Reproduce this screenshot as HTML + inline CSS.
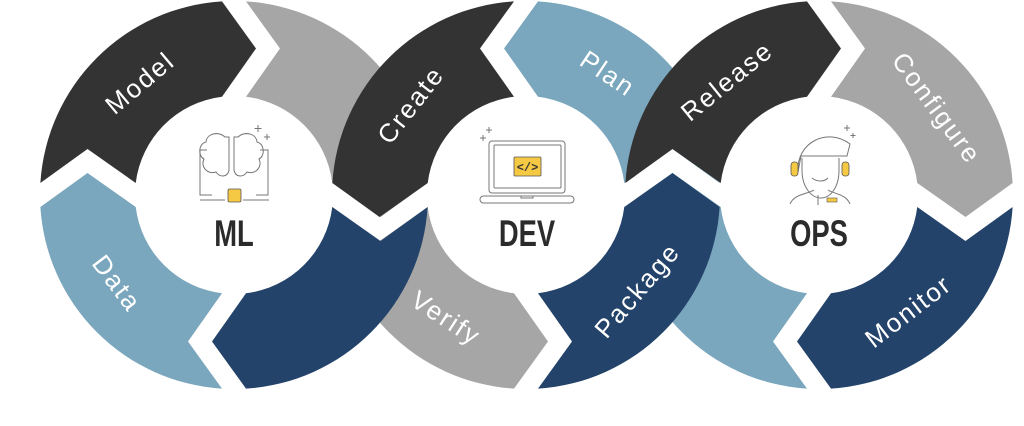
<!DOCTYPE html>
<html><head><meta charset="utf-8"><style>
html,body{margin:0;padding:0;background:#fff;width:1024px;height:426px;overflow:hidden}
svg{display:block}
.lbl{font-family:"Liberation Sans",sans-serif;font-size:26px;fill:#fff;letter-spacing:2px}
.big{font-family:"Liberation Sans",sans-serif;font-weight:bold;font-size:37px;fill:#2b2b2b}
.ic{fill:none;stroke:#777;stroke-width:1}
</style></head><body>
<svg id="s" width="1024" height="426" viewBox="0 0 1024 426" xmlns="http://www.w3.org/2000/svg">
<g id="segs"></g>
<!-- ML icon -->
<g class="ic">
<path d="M207,150 h-7 v45 h12 M260,150 h8 v45 h-12"/>
<path d="M225,137 c-6,-6 -18,-4 -19,5 c-8,2 -8,14 -2,17 c-4,8 4,16 12,13 c4,6 12,5 13,-2 v-33 z"/>
<path d="M238,137 c6,-6 18,-4 19,5 c8,2 8,14 2,17 c4,8 -4,16 -12,13 c-4,6 -12,5 -13,-2 v-33 z"/>
<path d="M200,200 h25 M243,200 h26"/>
<path d="M258,125 v7 M254.5,128.5 h7 M267,134 v6 M264,137 h6"/>
</g>
<rect x="228" y="189" width="13" height="13" rx="1.5" fill="#f6c944" stroke="#555" stroke-width="0.8"/>
<!-- DEV icon -->
<g class="ic">
<rect x="489" y="141" width="76" height="52" rx="3"/>
<rect x="494" y="145" width="67" height="43" rx="1"/>
<rect x="480" y="196" width="94" height="7" rx="3.5"/>
<path d="M521,196 v2 h12 v-2"/>
<path d="M483,135 v6 M480,138 h6 M489,127 v6 M486,130 h6"/>
</g>
<rect x="514" y="157" width="27" height="19" rx="1" fill="#f6c944" stroke="#555" stroke-width="0.8"/>
<text x="527.5" y="171" text-anchor="middle" font-family="Liberation Mono,monospace" font-size="12" font-weight="bold" fill="#333">&lt;/&gt;</text>
<!-- OPS icon -->
<g class="ic">
<path d="M798,172 c-2,-30 30,-45 52,-28 l-3,12 h-46 z"/>
<path d="M802,158 v12 c0,18 10,28 19,28 c9,0 18,-10 18,-28 v-12"/>
<path d="M812,178 c5,4 12,4 16,0"/>
<path d="M790,204 c4,-10 18,-10 24,-14 M850,204 c-4,-10 -16,-10 -22,-14 M818,195 v10"/>
<path d="M847,125 v6 M844,128 h6 M853,133 v5 M850.5,135.5 h5"/>
</g>
<rect x="791" y="162" width="7" height="14" rx="3" fill="#f6c944" stroke="#555" stroke-width="0.8"/>
<rect x="842" y="162" width="7" height="14" rx="3" fill="#f6c944" stroke="#555" stroke-width="0.8"/>
<rect x="827" y="198" width="10" height="4" fill="#f6c944" stroke="#555" stroke-width="0.6"/>
<g class="big" text-anchor="middle">
<text x="234" y="246" transform="translate(234 0) scale(0.74 1) translate(-234 0)">ML</text>
<text x="527" y="246" transform="translate(527 0) scale(0.74 1) translate(-527 0)">DEV</text>
<text x="819" y="246" transform="translate(819 0) scale(0.74 1) translate(-819 0)">OPS</text>
</g>
<g id="labels"></g>
</svg>
<script>
var R=194,r=99,M=146.5,CY=195;
var C={ML:234,DEV:526,OPS:819};
var DK="#333333",GR="#a6a6a6",LB="#7aa7bd",NB="#23436a";
function seg(cx,s,ts,col){
  var te=ts+s*90;
  function pc(th,rad,o){var a=(th*Math.PI/180)+s*Math.asin(o/rad);return [cx+rad*Math.cos(a),CY+rad*Math.sin(a)];}
  function pm(th,rad,o){var a=th*Math.PI/180;var ux=Math.cos(a),uy=Math.sin(a);var tx=-s*Math.sin(a),ty=s*Math.cos(a);return [cx+ux*rad+tx*o,CY+uy*rad+ty*o];}
  var os=pc(ts,R,12),oe=pc(te,R,-12),tip=pm(te,M,22),ie=pc(te,r,-12),is=pc(ts,r,12),n=pm(ts,M,46);
  var sw=s>0?1:0;
  var d="M"+os+" A"+R+","+R+" 0 0 "+sw+" "+oe+" L"+tip+" L"+ie+" A"+r+","+r+" 0 0 "+(1-sw)+" "+is+" L"+n+" Z";
  return '<path d="'+d+'" fill="'+col+'"/>';
}
var h="";
h+=seg(C.ML,1,270,GR);
h+=seg(C.ML,1,180,DK);
h+=seg(C.ML,1,90,LB);
h+=seg(C.DEV,-1,180,GR);
h+=seg(C.ML,1,0,NB);
h+=seg(C.DEV,-1,270,DK);
h+=seg(C.DEV,-1,360,LB);
h+=seg(C.OPS,1,90,LB);
h+=seg(C.DEV,-1,90,NB);
h+=seg(C.OPS,1,180,DK);
h+=seg(C.OPS,1,270,GR);
h+=seg(C.OPS,1,0,NB);
document.getElementById("segs").innerHTML=h;
var L=[["Model",C.ML,-130],["Data",C.ML,143],["Create",C.DEV,-142],["Verify",C.DEV,123],["Plan",C.DEV,-56],["Package",C.DEV,40.6],["Release",C.OPS,-129],["Configure",C.OPS,-36.5],["Monitor",C.OPS,52.5]];
var t="";
L.forEach(function(l){var a=l[2]*Math.PI/180;var x=l[1]+M*Math.cos(a),y=CY+M*Math.sin(a);var rot=l[2]<0?l[2]+90:l[2]-90;
t+='<text class="lbl" text-anchor="middle" dominant-baseline="central" transform="translate('+x.toFixed(1)+' '+y.toFixed(1)+') rotate('+rot+')">'+l[0]+'</text>';});
document.getElementById("labels").innerHTML=t;
</script>
</body></html>
